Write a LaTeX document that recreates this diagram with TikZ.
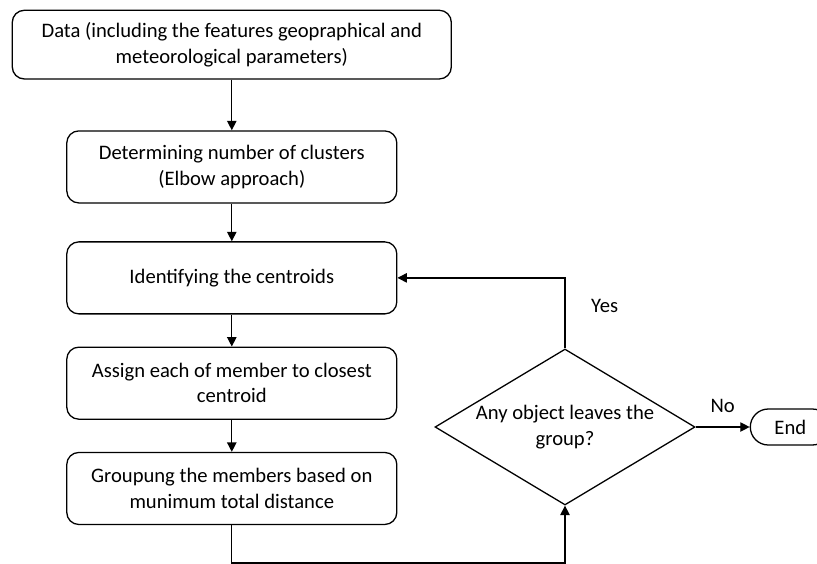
\documentclass[tikz,border=0pt]{standalone}
\usepackage{fontspec}
\setmainfont{Carlito}
\usetikzlibrary{shapes,arrows.meta,positioning}

\begin{document}
\begin{tikzpicture}[auto, x=0.03cm, y=-0.03cm, >={Triangle[length=8pt,width=8pt]},
    line width=1.1pt, font=\fontsize{17.6}{21.6}\selectfont]

% process style
\tikzstyle{pr} = [
    draw,
    rectangle,
    rounded corners=0.36cm,
    align=center,
    minimum height=2.16cm,
    minimum width=9.9cm
]

% decision style
\tikzstyle{dc} = [
    draw,
    diamond,
    aspect=1.67,
    inner sep=0pt,
    align=center,
    minimum height=4.68cm,
    minimum width=7.8cm
]

% terminal style
\tikzstyle{tm} = [
    draw,
    rectangle,
    rounded corners=0.54cm,
    minimum height=1.08cm,
    minimum width=2.4cm
]

\useasboundingbox (0,0) rectangle (817,564);

% Place the nodes.
\matrix [row sep=0.96cm, inner sep=0pt, matrix anchor=north west] at (11,9)
{
    \node [pr, minimum width=13.17cm, minimum height=2.06cm] (data)
        {Data (including the features geopraphical and\\meteorological parameters)};
    \\[0.56cm]

    \node [pr] (elbow) {Determining number of clusters\\(Elbow approach)};
    \\[0.17cm]

    \node [pr] (centroid) {Identifying the centroids};
    \\

    \node [pr] (assign) {Assign each of member to closest\\centroid};
    \\

    \node [pr] (group) {Groupung the members based on\\munimum total distance};
    \\
};

\node [dc] (check) at (565,427) {Any object leaves the\\group?};
\node [tm, right=1.62cm of check] (end) {End};

% Connect the nodes.
\draw [->] (data) -- (elbow);
\draw [->] (elbow) -- (centroid);
\draw [->] (centroid) -- (assign);
\draw [->] (assign) -- (group);
\draw [->] (group.south) -- ++(0,38) -| (check.south);
\draw [->] (check.north) |- node [pos=0.3, right=0.65cm] {Yes} (centroid.east);
\draw [->] (check.east) -- node [above=0.3cm] {No} (end.west);

\end{tikzpicture}
\end{document}
